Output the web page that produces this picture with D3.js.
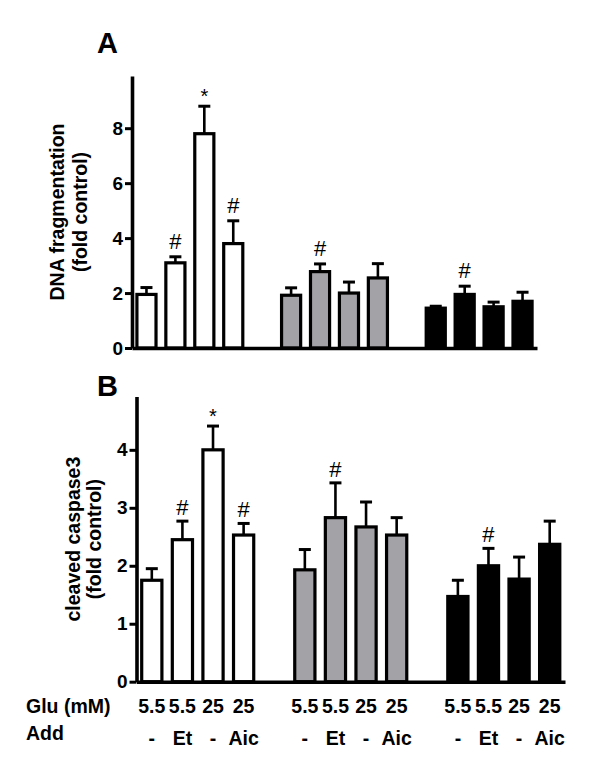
<!DOCTYPE html>
<html><head><meta charset="utf-8">
<script src="https://cdn.jsdelivr.net/npm/d3@7"></script>
<style>
body{margin:0;background:#fff}
text{font-family:"Liberation Sans",Arial,Helvetica,sans-serif}
</style>
</head><body>
<svg id="chart" width="600" height="777"></svg>
<script>
// ---------- data ----------
const gluLabels = ["5.5", "5.5", "25", "25"];
const addLabels = ["-", "Et", "-", "Aic"];
const groupNames = ["white", "gray", "black"];

const dnaMeans = [[1.95, 3.1, 7.8, 3.8], [1.92, 2.78, 2.0, 2.55], [1.45, 1.95, 1.5, 1.7]];
const dnaErrors = [[0.25, 0.22, 1.0, 0.83], [0.27, 0.28, 0.4, 0.52], [0.07, 0.3, 0.17, 0.33]];
const dnaMarks = [["", "#", "*", "#"], ["", "#", "", ""], ["", "#", "", ""]];
const dnaTicks = [0, 2, 4, 6, 8];

const casMeans = [[1.75, 2.45, 4.0, 2.53], [1.93, 2.83, 2.67, 2.53], [1.47, 2.0, 1.77, 2.37]];
const casErrors = [[0.2, 0.32, 0.41, 0.2], [0.35, 0.6, 0.43, 0.3], [0.28, 0.3, 0.38, 0.4]];
const casMarks = [["", "#", "*", "#"], ["", "#", "", ""], ["", "#", "", ""]];
const casTicks = [0, 1, 2, 3, 4];

// ---------- styles ----------
const fills = {white: "#ffffff", gray: "#a3a3a7", black: "#000000"};
const svg = d3.select("#chart");

function panel(cfg) {
  const slots = d3.range(14);
  const x = d3.scaleBand().domain(slots).range([cfg.x0, cfg.x1])
    .paddingInner(0.34).paddingOuter(0.17);
  const y = d3.scaleLinear().domain([0, cfg.yMax]).range([cfg.yZero, cfg.yTop]);
  const g = svg.append("g");

  const rows = [];
  groupNames.forEach((gn, gi) => {
    cfg.means[gi].forEach((m, i) => {
      rows.push({slot: gi * 5 + i, group: gn, mean: m, err: cfg.errors[gi][i], mark: cfg.marks[gi][i]});
    });
  });

  // error bars (behind bars)
  const eb = g.append("g").selectAll("g").data(rows).join("g");
  eb.append("line")
    .attr("x1", d => x(d.slot) + x.bandwidth() / 2)
    .attr("x2", d => x(d.slot) + x.bandwidth() / 2)
    .attr("y1", d => y(d.mean))
    .attr("y2", d => y(d.mean + d.err))
    .attr("stroke", "#000").attr("stroke-width", 2.6);
  eb.append("line")
    .attr("x1", d => x(d.slot) + x.bandwidth() / 2 - 6)
    .attr("x2", d => x(d.slot) + x.bandwidth() / 2 + 6)
    .attr("y1", d => y(d.mean + d.err))
    .attr("y2", d => y(d.mean + d.err))
    .attr("stroke", "#000").attr("stroke-width", 3);

  // bars
  g.append("g").selectAll("rect").data(rows).join("rect")
    .attr("x", d => x(d.slot))
    .attr("width", x.bandwidth())
    .attr("y", d => y(d.mean))
    .attr("height", d => y(0) - y(d.mean))
    .attr("fill", d => fills[d.group])
    .attr("stroke", "#000").attr("stroke-width", 3.2);

  // significance marks
  g.append("g").selectAll("text").data(rows.filter(d => d.mark)).join("text")
    .attr("x", d => x(d.slot) + x.bandwidth() / 2)
    .attr("y", d => y(d.mean + d.err) - (d.mark === "*" ? cfg.starGap : cfg.hashGap))
    .attr("text-anchor", "middle")
    .attr("font-size", d => d.mark === "*" ? 20 : 22)
    .text(d => d.mark);

  // y axis
  const ya = g.append("g").attr("transform", `translate(${cfg.x0},0)`)
    .call(d3.axisLeft(y).tickValues(cfg.ticks).tickSize(7).tickSizeOuter(0).tickPadding(2).tickFormat(d3.format("d")));
  ya.select(".domain").attr("stroke-width", 3.6);
  ya.selectAll(".tick line").attr("stroke-width", 3);
  ya.selectAll(".tick text").attr("font-size", 19).attr("font-weight", "bold").attr("fill", "#000")
    .attr("font-family", '"Liberation Sans",Arial,sans-serif');

  // x axis baseline
  const xa = g.append("g").attr("transform", `translate(0,${y(0)})`)
    .call(d3.axisBottom(x).tickValues([]).tickSizeOuter(0));
  xa.select(".domain").attr("stroke-width", 3.6);

  // y title
  cfg.title.forEach((t, i) => {
    g.append("text")
      .attr("transform", `translate(${cfg.titleX[i]},${(cfg.yZero + cfg.yTop) / 2}) rotate(-90)`)
      .attr("text-anchor", "middle")
      .attr("font-size", 19.5).attr("font-weight", "bold")
      .text(t);
  });

  // panel letter
  g.append("text").attr("x", 97).attr("y", cfg.letterY)
    .attr("font-size", 29).attr("font-weight", "bold").text(cfg.letter);

  return x;
}

panel({
  x0: 132, x1: 537, yTop: 76, yZero: 348, yMax: 9.9,
  means: dnaMeans, errors: dnaErrors, marks: dnaMarks, ticks: dnaTicks,
  title: ["DNA fragmentation", "(fold control)"], titleX: [64, 87],
  letter: "A", letterY: 53, hashGap: 8, starGap: 3
});

const xB = panel({
  x0: 136.5, x1: 565, yTop: 396.5, yZero: 681.7, yMax: 4.92,
  means: casMeans, errors: casErrors, marks: casMarks, ticks: casTicks,
  title: ["cleaved caspase3", "(fold control)"], titleX: [80, 101],
  letter: "B", letterY: 396, hashGap: 6, starGap: 3
});

// ---------- bottom condition labels ----------
const lab = svg.append("g").attr("font-size", 19.5).attr("font-weight", "bold");
lab.append("text").attr("x", 26).attr("y", 713).text("Glu (mM)");
lab.append("text").attr("x", 26).attr("y", 740).text("Add");
groupNames.forEach((gn, gi) => {
  gluLabels.forEach((t, i) => {
    lab.append("text").attr("x", xB(gi * 5 + i) + xB.bandwidth() / 2).attr("y", 713)
      .attr("text-anchor", "middle").text(t);
  });
  addLabels.forEach((t, i) => {
    lab.append("text").attr("x", xB(gi * 5 + i) + xB.bandwidth() / 2).attr("y", 745)
      .attr("text-anchor", "middle").text(t);
  });
});
</script>
</body></html>
